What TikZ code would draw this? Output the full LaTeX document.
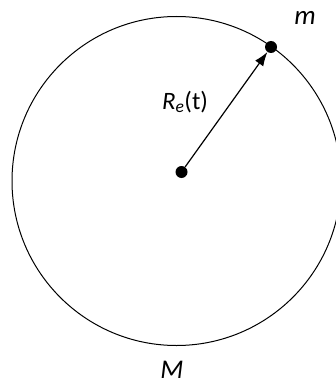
\documentclass[tikz,border=0pt]{standalone}
\usepackage{fontspec}
\setmainfont{Carlito}
\usetikzlibrary{arrows.meta}
\begin{document}
\begin{tikzpicture}[x=1pt,y=-1pt,
  dot/.style={circle,fill=black,inner sep=0pt,minimum size=12pt},
  lbl/.style={inner sep=0pt,font=\fontsize{25}{29}\selectfont},
  biglbl/.style={inner sep=0pt,font=\fontsize{27}{31}\selectfont},
  orbit/.style={draw=black,line width=1pt},
  radline/.style={draw=black,line width=1.2pt,-{Latex[length=14pt,width=10pt]}}]
\useasboundingbox (0,0) rectangle (336,385);
\fill[white] (0,0) rectangle (336,385);
\draw[orbit] (176.5,181) circle[radius=164.5];
\node[dot] (c) at (181.5,172) {};
\node[dot] (mdot) at (271,47) {};
\draw[radline] (c) -- (mdot);
\node[lbl] (rlabel) at (185,102) {\textit{R}\textsubscript{\textit{e}}(t)};
\node[biglbl] (mlabel) at (305,18) {\textit{m}};
\node[biglbl] (Mlabel) at (172,370) {\textit{M}};
\end{tikzpicture}
\end{document}
